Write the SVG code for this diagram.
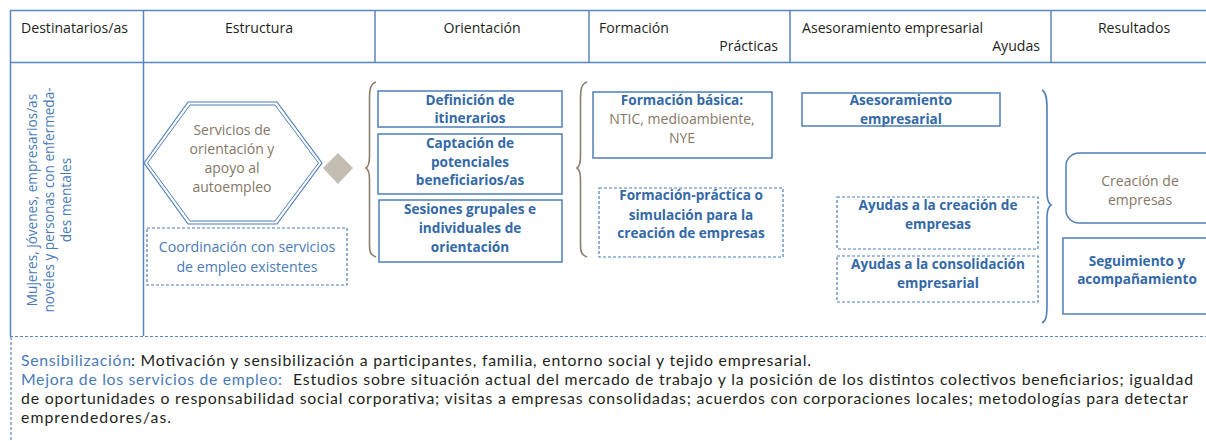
<svg xmlns="http://www.w3.org/2000/svg" width="1206" height="441" viewBox="0 0 1206 441">
<style>
.ln{stroke:#5a86c0;stroke-width:1.5;fill:none}
.dash{stroke:#5a86c0;stroke-width:1.2;fill:none;stroke-dasharray:3 2}
.box{stroke:#4f7fbb;stroke-width:1.5;fill:#fff}
.dbox{stroke:#4f7fbb;stroke-width:1.2;fill:#fff;stroke-dasharray:3 2}
text{font-family:"Open Sans",Lato,"Liberation Sans",sans-serif}
.h{font-size:14.1px;fill:#231f20}
.b{font-size:13.6px;font-weight:bold;fill:#3469a8;text-anchor:middle}
.br{font-size:14px;fill:#857866;text-anchor:middle}
.bl{font-size:14.2px;fill:#4a7bb9;text-anchor:middle}
.rot{font-size:13.6px;fill:#4a7bb9;text-anchor:middle}
.t{font-family:Lato,"Open Sans",sans-serif;font-size:15.8px;fill:#231f20}
.tb{fill:#4a7bb9}
.brace{stroke:#8c7f6c;stroke-width:1.6;fill:none}
.braceb{stroke:#4f7fbb;stroke-width:1.6;fill:none}
</style>
<rect width="1206" height="441" fill="#fff"/>
<g id="table">
<line class="ln" x1="10" y1="10.5" x2="1206" y2="10.5"/>
<line class="ln" x1="10" y1="62.5" x2="1206" y2="62.5"/>
<line class="ln" x1="10.5" y1="10" x2="10.5" y2="336"/>
<line class="ln" x1="143.5" y1="10" x2="143.5" y2="336"/>
<line class="ln" x1="375" y1="10" x2="375" y2="62"/>
<line class="ln" x1="589" y1="10" x2="589" y2="62"/>
<line class="ln" x1="790" y1="10" x2="790" y2="62"/>
<line class="ln" x1="1051" y1="10" x2="1051" y2="62"/>
<line class="dash" x1="10" y1="336.5" x2="1206" y2="336.5"/>
<line class="dash" x1="11" y1="337" x2="11" y2="441"/>
</g>
<g id="headers">
<text class="h" x="21" y="33">Destinatarios/as</text>
<text class="h" x="259" y="33" text-anchor="middle">Estructura</text>
<text class="h" x="482" y="33" text-anchor="middle">Orientación</text>
<text class="h" x="599" y="33">Formación</text>
<text class="h" x="778" y="51" text-anchor="end">Prácticas</text>
<text class="h" x="802" y="33">Asesoramiento empresarial</text>
<text class="h" x="1040" y="51" text-anchor="end">Ayudas</text>
<text class="h" x="1134" y="33" text-anchor="middle">Resultados</text>
</g>
<g id="destinatarios">
<text class="rot" transform="translate(37,200) rotate(-90)">Mujeres, jóvenes, empresarios/as</text>
<text class="rot" transform="translate(54,200) rotate(-90)">noveles y personas con enfermeda-</text>
<text class="rot" transform="translate(71,200) rotate(-90)">des mentales</text>
</g>
<g id="connectors">
<path class="brace" d="M376,82 C370,84 369.5,90 369.5,100 L369.5,156 C369.5,163 368.5,166.5 366,168 C368.5,169.5 369.5,173 369.5,180 L369.5,245 C369.5,252 370.5,255 376,257"/>
<path class="brace" d="M587,82 C581,84 580.5,90 580.5,100 L580.5,156 C580.5,163 579.5,166.5 577,168 C579.5,169.5 580.5,173 580.5,180 L580.5,245 C580.5,252 581.5,255 587,257"/>
<path class="braceb" d="M1042,90 C1046,92 1047,98 1047,110 L1047,192 C1047,199 1048,203 1051,205 C1048,207 1047,211 1047,218 L1047,305 C1047,316 1046,321 1042,323"/>
</g>
<g id="servicios">
<polygon points="144,163 188,102 277,102 322,163 277,224 188,224" fill="#fff" stroke="#4f7fbb" stroke-width="1.2"/>
<polygon points="147.5,163 190,105 275,105 318.5,163 275,221 190,221" fill="none" stroke="#4f7fbb" stroke-width="1"/>
<text class="br" x="232" y="135">Servicios de</text>
<text class="br" x="232" y="154">orientación y</text>
<text class="br" x="232" y="173">apoyo al</text>
<text class="br" x="232" y="192">autoempleo</text>
</g>
<g id="diamond">
<polygon points="338,153 353,168 338,184 323,168" fill="#c4bdb2"/>
</g>
<g id="coordinacion">
<rect class="dbox" x="147" y="228" width="200" height="57"/>
<text class="bl" x="247" y="252">Coordinación con servicios</text>
<text class="bl" x="247" y="272">de empleo existentes</text>
</g>
<g id="definicion">
<rect class="box" x="378" y="91" width="184" height="36"/>
<text class="b" x="470" y="105">Definición de</text>
<text class="b" x="470" y="123">itinerarios</text>
</g>
<g id="captacion">
<rect class="box" x="378" y="134" width="184" height="60"/>
<text class="b" x="470" y="148">Captación de</text>
<text class="b" x="470" y="167">potenciales</text>
<text class="b" x="470" y="185">beneficiarios/as</text>
</g>
<g id="sesiones">
<rect class="box" x="379" y="200" width="183" height="62"/>
<text class="b" x="470" y="214">Sesiones grupales e</text>
<text class="b" x="470" y="233">individuales de</text>
<text class="b" x="470" y="252">orientación</text>
</g>
<g id="formacion-basica">
<rect class="box" x="593" y="92" width="179" height="66"/>
<text class="b" x="682" y="105">Formación básica:</text>
<text class="br" x="682" y="124">NTIC, medioambiente,</text>
<text class="br" x="682" y="143">NYE</text>
</g>
<g id="formacion-practica">
<rect class="dbox" x="599" y="188" width="184" height="69"/>
<text class="b" x="691" y="200">Formación-práctica o</text>
<text class="b" x="691" y="220">simulación para la</text>
<text class="b" x="691" y="238">creación de empresas</text>
</g>
<g id="asesoramiento">
<rect class="box" x="802" y="93" width="198" height="33"/>
<text class="b" x="901" y="105">Asesoramiento</text>
<text class="b" x="901" y="124">empresarial</text>
</g>
<g id="ayudas-creacion">
<rect class="dbox" x="837" y="197" width="201" height="52"/>
<text class="b" x="938" y="210">Ayudas a la creación de</text>
<text class="b" x="938" y="229">empresas</text>
</g>
<g id="ayudas-consolidacion">
<rect class="dbox" x="837" y="256" width="201" height="46"/>
<text class="b" x="938" y="269">Ayudas a la consolidación</text>
<text class="b" x="938" y="288">empresarial</text>
</g>
<g id="creacion">
<rect x="1066" y="153" width="160" height="70" rx="13" fill="#fff" stroke="#4f7fbb" stroke-width="1.5"/>
<text class="br" x="1140" y="186">Creación de</text>
<text class="br" x="1140" y="205">empresas</text>
</g>
<g id="seguimiento">
<rect class="box" x="1063" y="238" width="160" height="76"/>
<text class="b" x="1137" y="266">Seguimiento y</text>
<text class="b" x="1137" y="284">acompañamiento</text>
</g>
<g id="notas">
<text class="t tb" x="21" y="366" textLength="110" lengthAdjust="spacing">Sensibilización</text>
<text class="t" x="131" y="366" textLength="680" lengthAdjust="spacing">: Motivación y sensibilización a participantes, familia, entorno social y tejido empresarial.</text>
<text class="t tb" x="21" y="385" textLength="261" lengthAdjust="spacing">Mejora de los servicios de empleo:</text>
<text class="t" x="293" y="385" textLength="900" lengthAdjust="spacing">Estudios sobre situación actual del mercado de trabajo y la posición de los distintos colectivos beneficiarios; igualdad</text>
<text class="t" x="21" y="404" textLength="1167" lengthAdjust="spacing">de oportunidades o responsabilidad social corporativa; visitas a empresas consolidadas; acuerdos con corporaciones locales; metodologías para detectar</text>
<text class="t" x="21" y="423" textLength="150" lengthAdjust="spacing">emprendedores/as.</text>
</g>
</svg>
